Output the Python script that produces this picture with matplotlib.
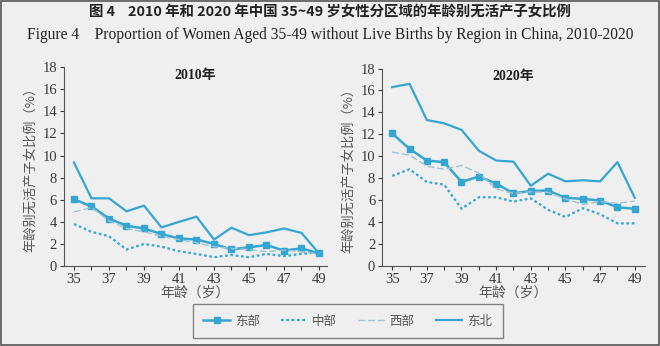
import matplotlib.pyplot as plt
from matplotlib.patches import Rectangle

ages = list(range(35, 50))

east_2010 = [6.04, 5.4, 4.3, 3.65, 3.4, 2.9, 2.5, 2.4, 2.0, 1.5, 1.7, 1.9, 1.4, 1.6, 1.15]
central_2010 = [3.8, 3.1, 2.7, 1.5, 2.0, 1.75, 1.35, 1.1, 0.8, 1.0, 0.8, 1.1, 0.9, 1.1, 1.25]
west_2010 = [4.9, 5.3, 4.1, 3.4, 3.1, 2.7, 2.4, 2.1, 1.75, 1.6, 1.5, 1.3, 1.45, 1.3, 1.1]
northeast_2010 = [9.37, 6.13, 6.13, 4.95, 5.47, 3.5, 4.0, 4.47, 2.4, 3.47, 2.8, 3.05, 3.4, 3.0, 1.15]

east_2020 = [12.07, 10.67, 9.6, 9.45, 7.65, 8.14, 7.5, 6.6, 6.83, 6.86, 6.2, 6.1, 5.95, 5.33, 5.2]
central_2020 = [8.2, 8.8, 7.65, 7.4, 5.2, 6.25, 6.25, 5.85, 6.15, 5.1, 4.45, 5.25, 4.7, 3.87, 3.87]
west_2020 = [10.37, 10.1, 9.08, 8.8, 9.15, 8.45, 7.0, 6.6, 6.75, 6.7, 6.1, 5.6, 5.85, 5.7, 5.9]
northeast_2020 = [16.3, 16.6, 13.3, 13.0, 12.4, 10.5, 9.6, 9.5, 7.3, 8.4, 7.7, 7.8, 7.7, 9.45, 6.2]

regions = ["东部", "中部", "西部", "东北"]

BLUE = "#35a6d2"
LIGHT = "#9fc3d4"
BG = "#efefef"
TXT = "#3a3a3a"
SERIF = ["Liberation Serif", "Noto Sans CJK SC"]
CJK = ["Noto Sans CJK SC", "DejaVu Sans"]

plt.rcParams['font.family'] = SERIF

fig = plt.figure(figsize=(6.6, 3.46), dpi=100, facecolor=BG)
fig.patches.append(Rectangle((0.002, 0.004), 0.996, 0.992, transform=fig.transFigure,
                             fill=False, edgecolor="#555555", lw=1.2))

fig.text(0.5, 0.963, "图 4    2010 年和 2020 年中国 35~49 岁女性分区域的年龄别无活产子女比例",
         ha="center", va="center", fontsize=10.4, fontweight="bold", family=CJK, color="#222222")
fig.text(0.5, 0.898, "Figure 4    Proportion of Women Aged 35-49 without Live Births by Region in China, 2010-2020",
         ha="center", va="center", fontsize=11.2, family=SERIF, color="#222222")

ax1 = fig.add_axes([0.097, 0.231, 0.398, 0.575])
ax2 = fig.add_axes([0.579, 0.232, 0.398, 0.570])

panels = [
    (ax1, "2010年", east_2010, central_2010, west_2010, northeast_2010, (34.43, 49.44)),
    (ax2, "2020年", east_2020, central_2020, west_2020, northeast_2020, (34.42, 49.58)),
]

handles = []
for ax, title, e, c, w, ne, xl in panels:
    ax.set_facecolor(BG)
    h1, = ax.plot(ages, e, color=BLUE, lw=1.8, marker="s", ms=5)
    h2, = ax.plot(ages, c, color=BLUE, lw=1.6, linestyle=(0, (1.2, 1.2)))
    h3, = ax.plot(ages, w, color=LIGHT, lw=1.0, linestyle=(0, (5, 2)))
    h4, = ax.plot(ages, ne, color=BLUE, lw=1.6)
    handles = [h1, h2, h3, h4]
    ax.set_xlim(*xl)
    ax.set_ylim(0, 18)
    ax.set_yticks(range(0, 19, 2))
    ax.set_xticks(range(35, 50, 2))
    ax.set_xticks(range(35, 50), minor=True)
    ax.tick_params(axis="both", labelsize=10.5, colors=TXT, length=3, width=0.8, pad=2)
    ax.tick_params(axis="x", which="minor", length=3, width=0.8, colors=TXT)
    for s in ["top", "right"]:
        ax.spines[s].set_visible(False)
    for s in ["left", "bottom"]:
        ax.spines[s].set_color("#555555")
        ax.spines[s].set_linewidth(0.8)
    ax.set_title(title, fontsize=10, fontweight="bold", family=SERIF, color="#222222", y=0.9)
    ax.set_xlabel("年龄（岁）", fontsize=10, family=CJK, color="#555555", labelpad=0)
    ax.set_ylabel("年龄别无活产子女比例（%）", fontsize=9.5, family=CJK, color="#555555", labelpad=4)

leg = fig.legend(handles, regions, loc="center", bbox_to_anchor=(0.527, 0.072), ncol=4,
                 frameon=True, fancybox=False, edgecolor="#666666", facecolor=BG,
                 prop={"family": CJK, "size": 9}, handlelength=2.1, handletextpad=0.4,
                 columnspacing=1.7, borderpad=0.85)
leg.get_frame().set_linewidth(1.0)
for t in leg.get_texts():
    t.set_color("#555555")

plt.savefig("out.png", dpi=100, facecolor=BG)
